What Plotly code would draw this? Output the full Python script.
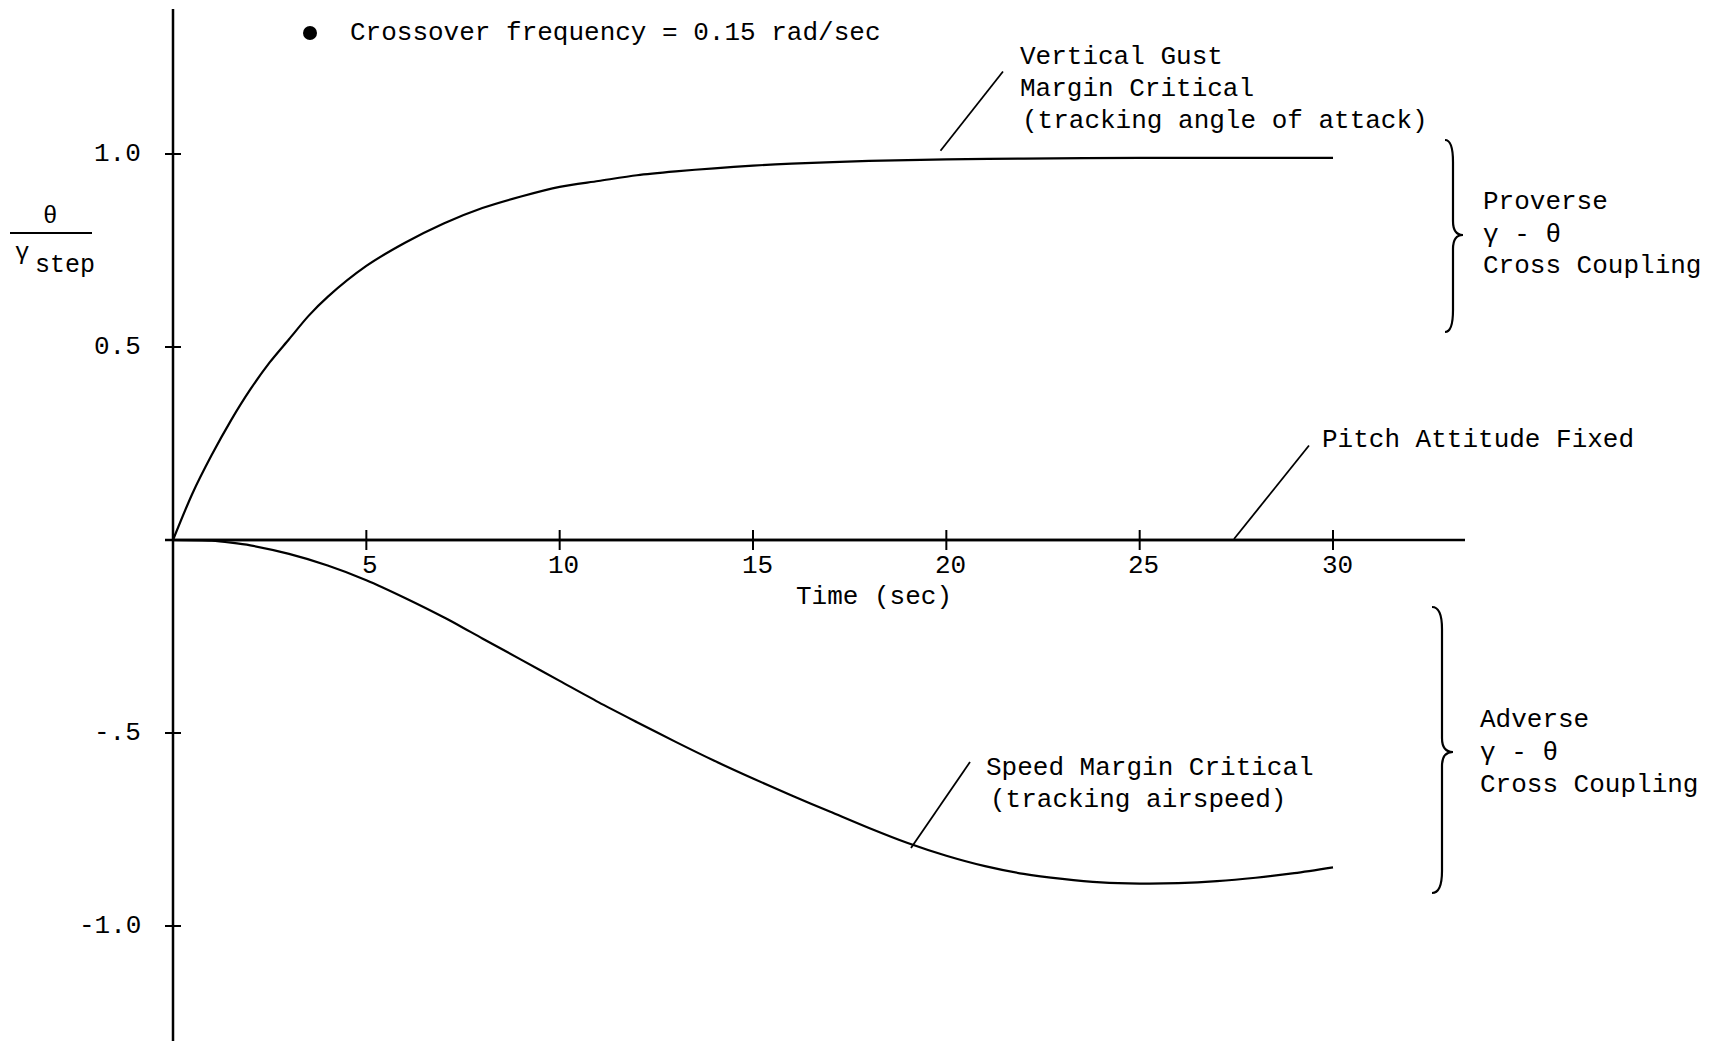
import plotly.graph_objects as go

# ---------------- data ----------------
time_vg = [0, 0.5, 1, 1.5, 2, 2.5, 3, 3.5, 4, 5, 6, 7, 8, 9, 10, 11, 12, 13, 14, 15, 16, 18, 20, 22, 25, 28, 30]
vertical_gust = [0, 0.12, 0.22, 0.31, 0.39, 0.46, 0.52, 0.58, 0.63, 0.71, 0.77, 0.82, 0.86, 0.89, 0.915,
                 0.93, 0.945, 0.955, 0.963, 0.97, 0.975, 0.982, 0.986, 0.988, 0.99, 0.99, 0.99]

time_sm = [0, 1, 1.5, 2, 3, 4, 5, 6, 7, 8, 9, 10, 11, 12, 13, 14, 15, 16, 17, 18, 19, 20,
           21, 22, 23, 24, 25, 26, 27, 28, 29, 30]
speed_margin = [0, -0.002, -0.007, -0.014, -0.036, -0.066, -0.104, -0.150, -0.200, -0.255, -0.31, -0.365,
                -0.42, -0.472, -0.523, -0.572, -0.618, -0.662, -0.704, -0.746, -0.785, -0.818,
                -0.845, -0.865, -0.878, -0.887, -0.89, -0.889, -0.884, -0.875, -0.863, -0.848]

time_pf = [0, 30]
pitch_fixed = [0, 0]

x_ticks = [5, 10, 15, 20, 25, 30]
x_tick_labels = ["5", "10", "15", "20", "25", "30"]
y_ticks = [1.0, 0.5, -0.5, -1.0]
y_tick_labels = ["1.0", "0.5", "-.5", "-1.0"]

# ---------------- layout geometry (pixel <-> data) ----------------
W, H = 1725, 1041
X0PX, PX_PER_S = 173.0, 38.667
Y0PX, PX_PER_U = 540.0, 386.0


def tx(px):
    return (px - X0PX) / PX_PER_S


def vy(py):
    return (Y0PX - py) / PX_PER_U


FONT = "Liberation Mono, Courier New, monospace"
FS = 26

fig = go.Figure()

fig.add_trace(go.Scatter(x=time_vg, y=vertical_gust, mode="lines",
                         line=dict(color="black", width=2.2, shape="spline", smoothing=0.8),
                         hoverinfo="skip"))
fig.add_trace(go.Scatter(x=time_sm, y=speed_margin, mode="lines",
                         line=dict(color="black", width=2.2, shape="spline", smoothing=0.8),
                         hoverinfo="skip"))
fig.add_trace(go.Scatter(x=time_pf, y=pitch_fixed, mode="lines",
                         line=dict(color="black", width=2.5), hoverinfo="skip"))
# bullet
fig.add_trace(go.Scatter(x=[tx(310)], y=[vy(33)], mode="markers",
                         marker=dict(color="black", size=14), hoverinfo="skip"))

shapes = []
line_k = dict(color="black", width=2.5)
# axes
shapes.append(dict(type="line", xref="x", yref="y", x0=0, x1=0, y0=vy(9), y1=vy(1041), line=line_k))
shapes.append(dict(type="line", xref="x", yref="y", x0=tx(165), x1=tx(1465), y0=0, y1=0, line=line_k))
# ticks
for t in x_ticks:
    shapes.append(dict(type="line", xref="x", yref="y", x0=t, x1=t,
                       y0=10 / PX_PER_U, y1=-10 / PX_PER_U, line=dict(color="black", width=2)))
for v in y_ticks:
    shapes.append(dict(type="line", xref="x", yref="y", x0=-8 / PX_PER_S, x1=8 / PX_PER_S,
                       y0=v, y1=v, line=dict(color="black", width=2)))
# leaders
for (a, b, c, d) in [(1003, 71.5, 940.5, 150.7), (1309, 445.5, 1234, 539), (970, 762, 911, 848)]:
    shapes.append(dict(type="line", xref="x", yref="y", x0=tx(a), y0=vy(b), x1=tx(c), y1=vy(d),
                       line=dict(color="black", width=1.8)))
# y label fraction bar
shapes.append(dict(type="line", xref="x", yref="y", x0=tx(10), x1=tx(92), y0=vy(233), y1=vy(233),
                   line=dict(color="black", width=2)))


def brace(xl, xs, xtip, ytop, ytip, ybot):
    pts = [
        ("M", [(xl, ytop)]),
        ("Q", [(xs, ytop), (xs, ytop + 22)]),
        ("L", [(xs, ytip - 14)]),
        ("Q", [(xs, ytip), (xtip, ytip)]),
        ("Q", [(xs, ytip), (xs, ytip + 14)]),
        ("L", [(xs, ybot - 22)]),
        ("Q", [(xs, ybot), (xl, ybot)]),
    ]
    s = ""
    for cmd, ps in pts:
        s += cmd + " " + " ".join(f"{tx(px):.4f},{vy(py):.4f}" for px, py in ps) + " "
    return s.strip()


shapes.append(dict(type="path", xref="x", yref="y", path=brace(1445, 1453, 1463, 140, 235, 332),
                   line=dict(color="black", width=2.2)))
shapes.append(dict(type="path", xref="x", yref="y", path=brace(1432, 1442, 1453, 607, 752, 893),
                   line=dict(color="black", width=2.2)))

ann = []


def text(s, px, py, anchor="left", size=FS):
    ann.append(dict(text=s, x=tx(px), y=vy(py), xref="x", yref="y", showarrow=False,
                    xanchor=anchor, yanchor="middle", font=dict(family=FONT, size=size, color="black")))


for t, lab in zip(x_ticks, x_tick_labels):
    ann.append(dict(text=lab, x=t + 4 / PX_PER_S, y=vy(566), xref="x", yref="y", showarrow=False,
                    xanchor="center", yanchor="middle", font=dict(family=FONT, size=FS, color="black")))
for v, lab in zip(y_ticks, y_tick_labels):
    ann.append(dict(text=lab, x=tx(143), y=v, xref="x", yref="y", showarrow=False,
                    xanchor="right", yanchor="middle", font=dict(family=FONT, size=FS, color="black")))

text("Time (sec)", 874, 597, anchor="center")
text("θ", 50, 216, anchor="center", size=24)
text("γ", 22, 252, anchor="center", size=24)
text("step", 65, 265, anchor="center", size=25)
text("Crossover frequency = 0.15 rad/sec", 348, 33)
text("Vertical Gust", 1018, 57)
text("Margin Critical", 1018, 89)
text("(tracking angle of attack)", 1020, 121)
text("Pitch Attitude Fixed", 1320, 440)
text("Speed Margin Critical", 984, 768)
text("(tracking airspeed)", 988, 800)
text("Proverse", 1481, 202)
text("γ - θ", 1481, 235)
text("Cross Coupling", 1481, 266)
text("Adverse", 1478, 720)
text("γ - θ", 1478, 753)
text("Cross Coupling", 1478, 785)

fig.update_layout(
    width=W, height=H, margin=dict(l=0, r=0, t=0, b=0),
    paper_bgcolor="white", plot_bgcolor="white", showlegend=False,
    xaxis=dict(range=[tx(0), tx(W)], visible=False, showgrid=False, zeroline=False),
    yaxis=dict(range=[vy(H), vy(0)], visible=False, showgrid=False, zeroline=False),
    shapes=shapes, annotations=ann,
)

fig.write_html("out.html")
